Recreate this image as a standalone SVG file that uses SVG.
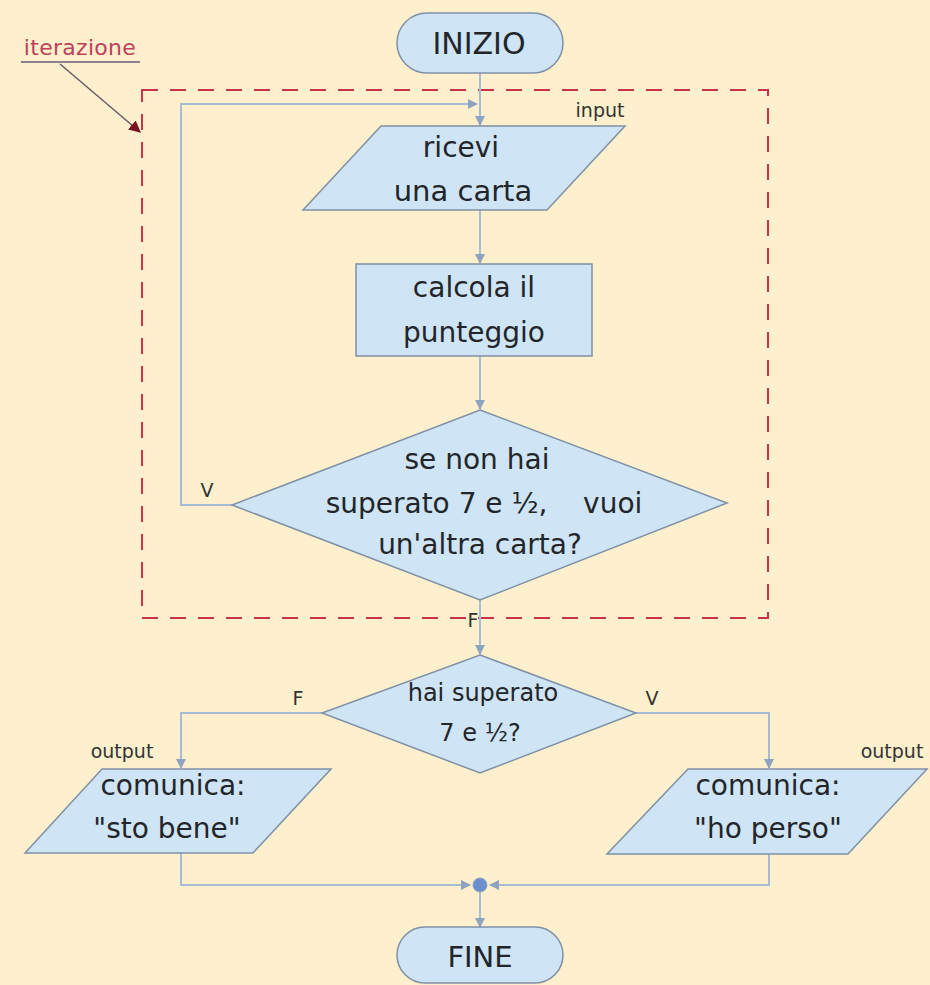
<svg xmlns="http://www.w3.org/2000/svg" width="930" height="985" viewBox="0 0 930 985">
<style>
.shape{fill:#cfe4f4;stroke:#7f90a8;stroke-width:1.5}
.conn{fill:none;stroke:#a7bbd6;stroke-width:2}
.t{font-family:"DejaVu Sans","Open Sans",sans-serif;fill:#22262a;text-anchor:middle}
.big{font-size:28px}
.lbl{font-size:19px;fill:#333}
</style>
<defs>
<marker id="ar" viewBox="0 0 10 10" refX="9" refY="5" markerWidth="5" markerHeight="5" orient="auto" markerUnits="strokeWidth">
<path d="M0,0 L10,5 L0,10 z" fill="#8ea3c0"/>
</marker>
<marker id="ard" viewBox="0 0 10 10" refX="9" refY="5" markerWidth="8" markerHeight="8" orient="auto" markerUnits="strokeWidth">
<path d="M0,0 L10,5 L0,10 z" fill="#7a1020"/>
</marker>
</defs>
<rect x="0" y="0" width="930" height="985" fill="#fef0cd"/>

<g id="iteration-box">
<rect x="142" y="90" width="626" height="528" fill="none" stroke="#c8324e" stroke-width="2" stroke-dasharray="16,12"/>
<text x="80" y="55" class="t" style="font-size:22px;fill:#c0405a;letter-spacing:0.3px">iterazione</text>
<line x1="21" y1="62" x2="140" y2="62" stroke="#8a8090" stroke-width="2"/>
<line x1="60" y1="64" x2="140" y2="132" stroke="#6a5a6a" stroke-width="1.5" marker-end="url(#ard)"/>
</g>

<g id="connectors">
<line class="conn" x1="480" y1="73" x2="480" y2="125" marker-end="url(#ar)"/>
<polyline class="conn" points="232,505 181,505 181,104 477,104" marker-end="url(#ar)"/>
<line class="conn" x1="480" y1="210" x2="480" y2="263" marker-end="url(#ar)"/>
<line class="conn" x1="480" y1="356" x2="480" y2="409" marker-end="url(#ar)"/>
<line class="conn" x1="480" y1="600" x2="480" y2="654" marker-end="url(#ar)"/>
<polyline class="conn" points="322,713 181,713 181,768" marker-end="url(#ar)"/>
<polyline class="conn" points="636,713 769,713 769,768" marker-end="url(#ar)"/>
<polyline class="conn" points="181,853 181,885 470,885" marker-end="url(#ar)"/>
<polyline class="conn" points="769,854 769,885 490,885" marker-end="url(#ar)"/>
<line class="conn" x1="480" y1="891" x2="480" y2="927" marker-end="url(#ar)"/>
<text x="207" y="497" class="t lbl">V</text>
<text x="473" y="627" class="t lbl">F</text>
<text x="298" y="705" class="t lbl">F</text>
<text x="652" y="705" class="t lbl">V</text>
</g>

<g id="inizio">
<rect x="397" y="13" width="166" height="60" rx="30" class="shape"/>
<text x="479" y="54" class="t" style="font-size:30px">INIZIO</text>
</g>

<g id="ricevi">
<polygon points="381,126 625,126 547,210 303,210" class="shape"/>
<text x="600" y="117" class="t lbl">input</text>
<text x="461" y="157" class="t big">ricevi</text>
<text x="463" y="201" class="t" style="font-size:29px">una carta</text>
</g>

<g id="calcola">
<rect x="356" y="264" width="236" height="92" class="shape"/>
<text x="474" y="297" class="t big">calcola il</text>
<text x="474" y="342" class="t big">punteggio</text>
</g>

<g id="decisione1">
<polygon points="480,410 727,503 480,600 232,505" class="shape"/>
<text x="477" y="469" class="t big">se non hai</text>
<text x="484" y="513" class="t big" xml:space="preserve">superato 7 e ½,    vuoi</text>
<text x="480" y="554" class="t big">un'altra carta?</text>
</g>

<g id="decisione2">
<polygon points="480,655 636,713 480,773 322,713" class="shape"/>
<text x="483" y="701" class="t" style="font-size:24px">hai superato</text>
<text x="480" y="741" class="t" style="font-size:24px">7 e ½?</text>
</g>

<g id="sto-bene">
<polygon points="102,769 331,769 253,853 25,853" class="shape"/>
<text x="122" y="758" class="t lbl">output</text>
<text x="173" y="795" class="t big">comunica:</text>
<text x="167" y="838" class="t big">"sto bene"</text>
</g>

<g id="ho-perso">
<polygon points="688,769 927,769 848,854 607,854" class="shape"/>
<text x="892" y="758" class="t lbl">output</text>
<text x="768" y="795" class="t big">comunica:</text>
<text x="768" y="838" class="t big">"ho perso"</text>
</g>

<g id="junction">
<circle cx="480" cy="885" r="7" fill="#6e8fcf" stroke="#8ea3c0" stroke-width="1"/>
</g>

<g id="fine">
<rect x="397" y="927" width="166" height="56" rx="28" class="shape"/>
<text x="480" y="967" class="t" style="font-size:29px">FINE</text>
</g>
</svg>
